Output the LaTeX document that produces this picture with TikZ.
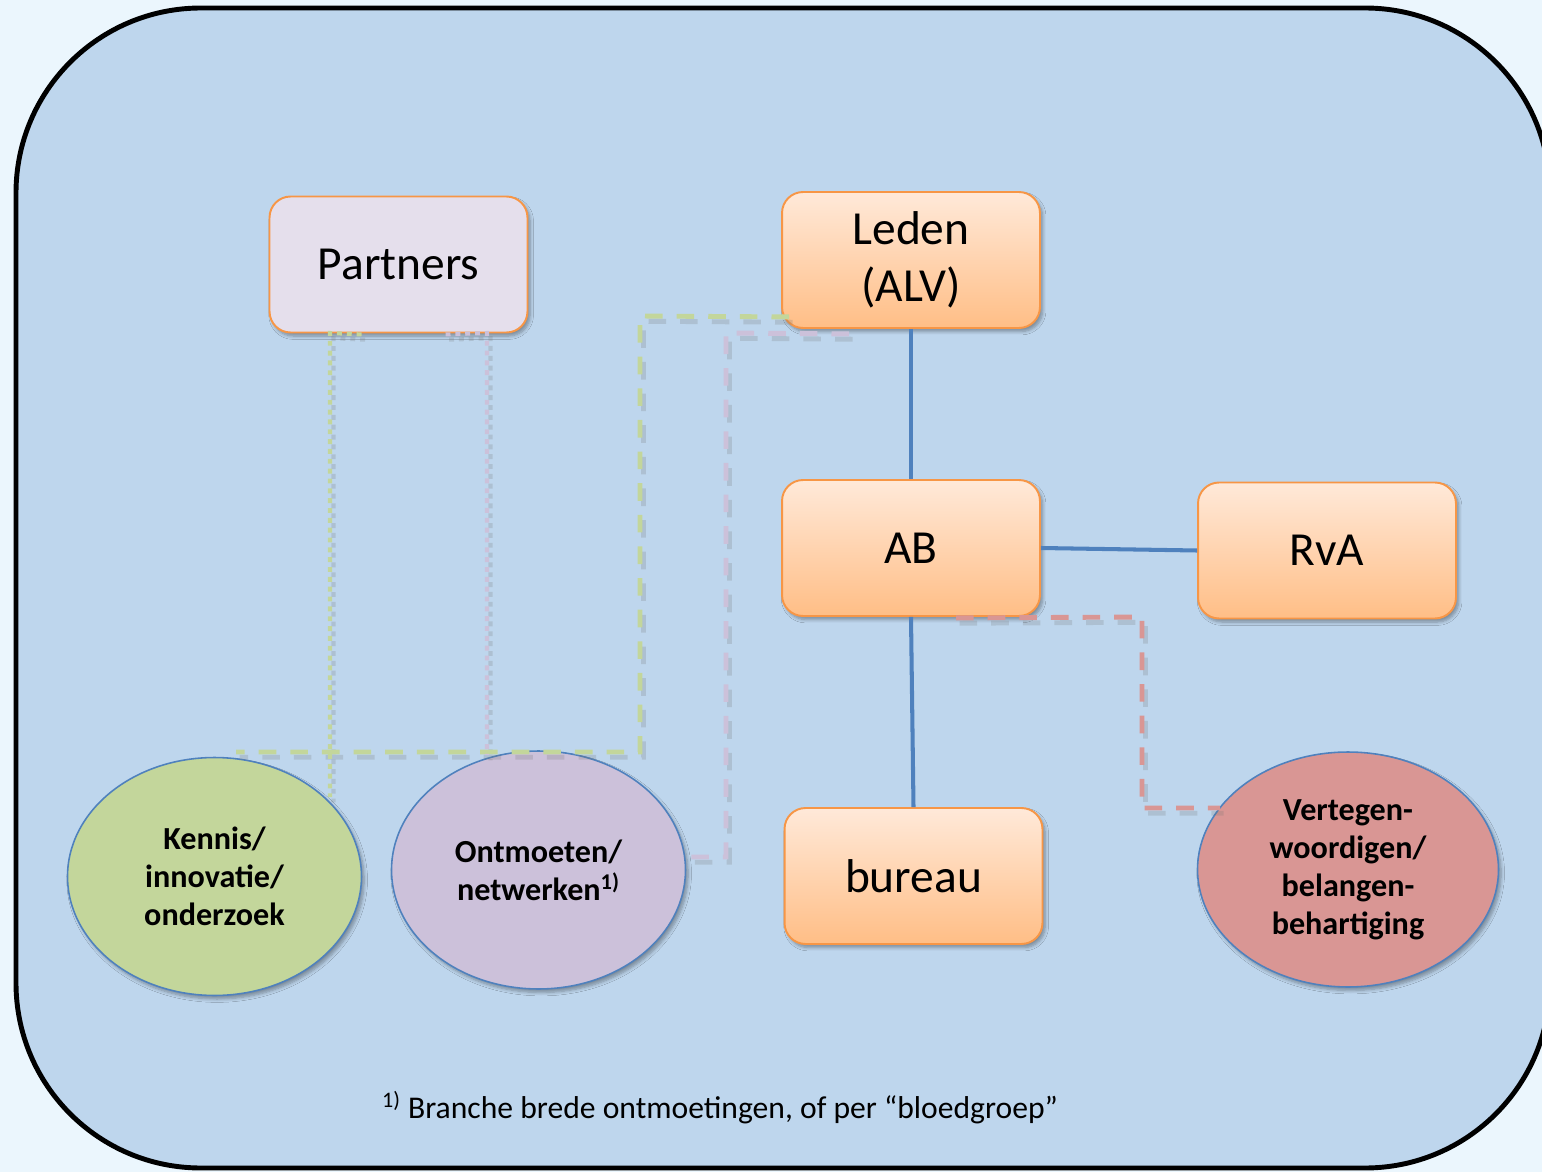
\documentclass[tikz,border=0pt]{standalone}
\usepackage{fontspec}
\setmainfont{Carlito}
\usetikzlibrary{shapes.geometric,shadows.blur,calc}
\definecolor{outerbg}{RGB}{235,246,253}
\definecolor{innerbg}{RGB}{190,214,237}
\definecolor{orangeB}{RGB}{247,150,70}
\definecolor{boxtop}{RGB}{255,233,217}
\definecolor{boxbot}{RGB}{255,190,134}
\definecolor{partnersfill}{RGB}{229,223,236}
\definecolor{ellblue}{RGB}{79,129,189}
\definecolor{greenE}{RGB}{195,214,155}
\definecolor{purpleE}{RGB}{204,193,218}
\definecolor{redE}{RGB}{217,150,148}
\definecolor{blueL}{RGB}{79,129,189}
\tikzset{
  orgbox/.style={draw=orangeB, line width=1.1pt, rounded corners=0.42cm,
    minimum width=5.16cm, minimum height=2.72cm, align=center,
    font=\fontsize{27}{32.5}\selectfont,
    blur shadow={shadow xshift=1.5pt, shadow yshift=-2pt, shadow blur steps=6, shadow opacity=35}},
  gradbox/.style={orgbox, top color=boxtop, bottom color=boxbot},
  topic/.style={ellipse, draw=ellblue, line width=0.9pt, inner sep=0pt,
    minimum width=5.88cm, minimum height=4.76cm, align=center,
    font=\bfseries\fontsize{18.3}{21.7}\selectfont,
    blur shadow={shadow xshift=1.5pt, shadow yshift=-2pt, shadow blur steps=6, shadow opacity=35}},
  blueline/.style={draw=blueL, line width=2.3pt},
  dashline/.style={line width=2.8pt, dash pattern=on 10pt off 8pt},
  dotline/.style={line width=2.3pt, dash pattern=on 2.8pt off 2.8pt},
  lineshadow/.style={draw=black!55, opacity=0.22, transform canvas={shift={(2pt,-3pt)}}},
}
\begin{document}
\begin{tikzpicture}[x=0.02cm,y=-0.02cm]
\useasboundingbox (0,0) rectangle (1542,1172);
\clip (0,0) rectangle (1542,1172);
\fill[outerbg] (0,0) rectangle (1542,1172);
\draw[line width=2.8pt, fill=innerbg, rounded corners=3.7cm] (16,8) rectangle (1550,1168);

% boxes
\node[orgbox, fill=partnersfill] (partners) at (398.5,264.5) {Partners};
\node[gradbox] (leden) at (911,260) {\raisebox{-3pt}{Leden}\\\raisebox{-3pt}{(ALV)}};
\node[gradbox] (ab) at (911,548) {AB};
\node[gradbox] (rva) at (1327,550.5) {RvA};
\node[gradbox] (bureau) at (913.5,876) {bureau};

% ellipses
\node[topic, fill=greenE] (kennis) at (214.5,876.5) {Kennis/\\innovatie/\\onderzoek};
\node[topic, fill=purpleE] (ontmoeten) at (538.5,870) {Ontmoeten/\\netwerken\textsuperscript{1)}};
\node[topic, fill=redE, minimum width=6.02cm, minimum height=4.7cm] (vert) at (1348,869.5) {Vertegen-\\woordigen/\\belangen-\\behartiging};

% blue solid lines
\draw[blueline] (leden.south) -- (ab.north);
\draw[blueline] (ab.east) -- (rva.west);
\draw[blueline] (ab.south) -- (bureau.north);

% shadows of dashed/dotted connectors
\begin{scope}
\draw[lineshadow, dashline] ($(leden.south west)+(8,-12)$) -- (640,316) -- (640,752) -- (236,752);
\draw[lineshadow, dashline] ($(leden.south west)+(68,5)$) -- (726,333) -- (726,857) -- ($(ontmoeten.east)+(0,-13)$);
\draw[lineshadow, dashline] ($(ab.south west)+(175,1)$) -- (1142,617) -- (1142,808) -- (1220,808);
\draw[lineshadow, dotline] ($(partners.south west)+(93,1)$) -- (330,333) -- (330,797);
\draw[lineshadow, dotline] ($(partners.south west)+(177,1)$) -- (487,333) -- (487,755);
\end{scope}

% dashed connectors
\draw[dashline, draw=greenE] ($(leden.south west)+(8,-12)$) -- (640,316) -- (640,752) -- (236,752);
\draw[dashline, draw=purpleE] ($(leden.south west)+(68,5)$) -- (726,333) -- (726,857) -- ($(ontmoeten.east)+(0,-13)$);
\draw[dashline, draw=redE] ($(ab.south west)+(175,1)$) -- (1142,617) -- (1142,808) -- (1220,808);

% dotted connectors
\draw[dotline, draw=greenE] ($(partners.south west)+(93,1)$) -- (330,333) -- (330,797);
\draw[dotline, draw=purpleE] ($(partners.south west)+(177,1)$) -- (487,333) -- (487,755);

% footnote
\node[font=\fontsize{18}{22}\selectfont, inner sep=0pt] (note) at (720,1108) {\textsuperscript{1)} Branche brede ontmoetingen, of per “bloedgroep”};
\end{tikzpicture}
\end{document}
